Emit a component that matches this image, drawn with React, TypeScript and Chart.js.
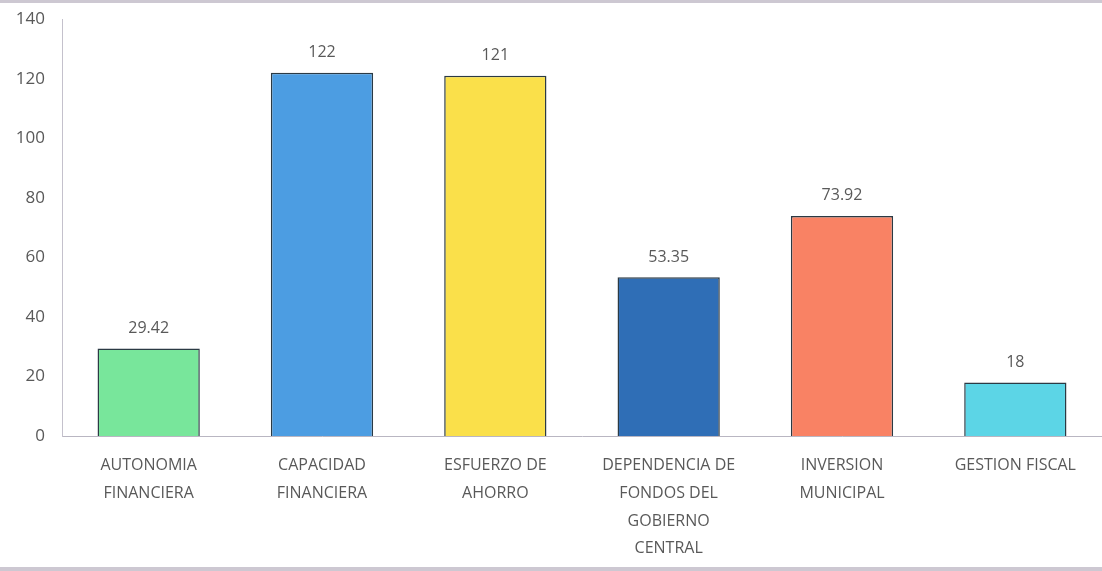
import React, { useEffect, useRef } from "react";
import { Chart, registerables } from "chart.js";

Chart.register(...registerables);

const categories: string[][] = [
  ["AUTONOMIA", "FINANCIERA"],
  ["CAPACIDAD", "FINANCIERA"],
  ["ESFUERZO DE", "AHORRO"],
  ["DEPENDENCIA DE", "FONDOS DEL", "GOBIERNO", "CENTRAL"],
  ["INVERSION", "MUNICIPAL"],
  ["GESTION FISCAL"],
];
const values: number[] = [29.42, 122, 121, 53.35, 73.92, 18];
const valueLabels: string[] = ["29.42", "122", "121", "53.35", "73.92", "18"];
const barColors: string[] = ["#78E69B", "#4C9DE2", "#FAE04A", "#2F6EB6", "#F98264", "#5CD5E6"];
const yMin = 0;
const yMax = 140;
const yStep = 20;

const FONT = "'Open Sans', 'Liberation Sans', sans-serif";

const valueLabelPlugin = {
  id: "valueLabels",
  afterDatasetsDraw(chart: any) {
    const ctx = chart.ctx;
    const meta = chart.getDatasetMeta(0);
    ctx.save();
    ctx.font = `16px ${FONT}`;
    ctx.fillStyle = "#595959";
    ctx.textAlign = "center";
    ctx.textBaseline = "middle";
    meta.data.forEach((bar: any, i: number) => {
      ctx.fillText(valueLabels[i], bar.x, bar.y - 20);
    });
    ctx.restore();
  },
};

const framePlugin = {
  id: "frame",
  beforeDraw(chart: any) {
    const ctx = chart.ctx;
    ctx.save();
    ctx.fillStyle = "#ffffff";
    ctx.fillRect(0, 0, chart.width, chart.height);
    ctx.fillStyle = "#cdc8d2";
    ctx.fillRect(0, 0, chart.width, 3);
    ctx.fillRect(0, chart.height - 4, chart.width, 4);
    ctx.restore();
  },
};

export default function App() {
  const ref = useRef<HTMLCanvasElement | null>(null);
  useEffect(() => {
    if (!ref.current) return;
    const chart = new Chart(ref.current, {
      type: "bar",
      data: {
        labels: categories,
        datasets: [
          {
            data: values,
            backgroundColor: barColors,
            borderColor: "#2b3a44",
            borderWidth: 1.5,
            categoryPercentage: 1,
            barPercentage: 0.59,
          },
        ],
      },
      options: {
        animation: false,
        responsive: false,
        maintainAspectRatio: false,
        layout: { padding: { top: 17, right: 0, left: 0, bottom: 0 } },
        plugins: {
          legend: { display: false },
          tooltip: { enabled: false },
        },
        scales: {
          x: {
            grid: { display: false },
            border: { display: true, color: "#b9b6c2", width: 1 },
            ticks: {
              color: "#595959",
              font: { family: FONT, size: 16, lineHeight: 1.73 },
              padding: 8,
              maxRotation: 0,
              autoSkip: false,
            },
            afterFit(scale: any) {
              scale.height = 135;
            },
          },
          y: {
            min: yMin,
            max: yMax,
            grid: { display: false },
            border: { display: true, color: "#c4c1cc", width: 1 },
            ticks: {
              stepSize: yStep,
              color: "#595959",
              font: { family: FONT, size: 17 },
              padding: 9,
            },
            afterFit(scale: any) {
              scale.width = 62;
            },
          },
        },
      },
      plugins: [framePlugin, valueLabelPlugin],
    });
    return () => chart.destroy();
  }, []);
  return (
    <div style={{ position: "fixed", left: 0, top: 0, width: 1102, height: 571 }}>
      <canvas ref={ref} width={1102} height={571} style={{ width: 1102, height: 571 }} />
    </div>
  );
}
